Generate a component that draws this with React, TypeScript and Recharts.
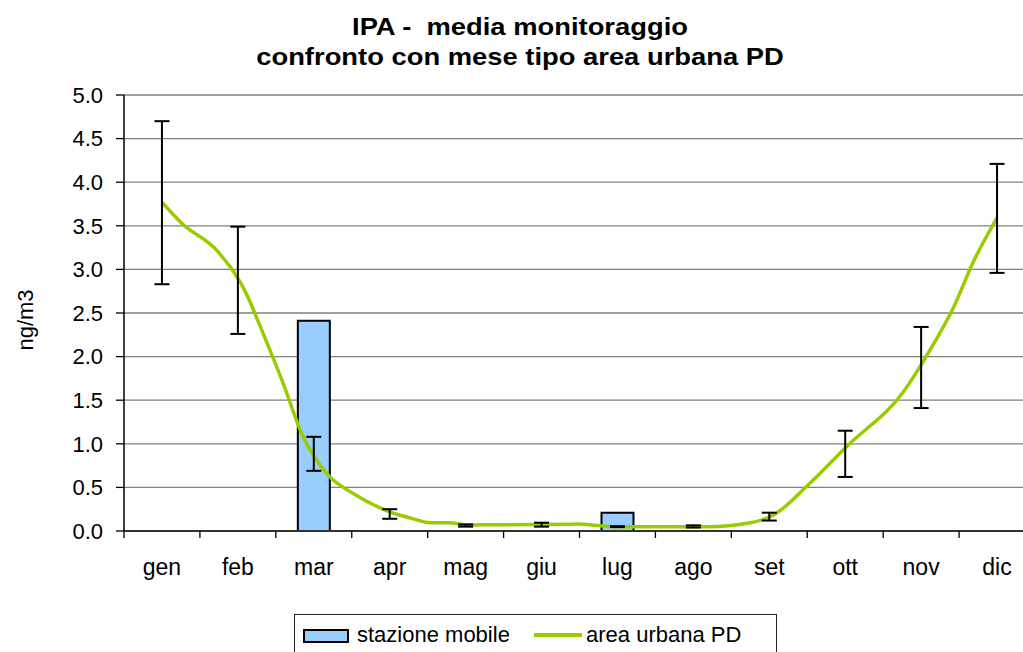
import React from 'react';
import { ComposedChart, Bar, Line, XAxis, YAxis, CartesianGrid, ErrorBar, Legend, Label } from 'recharts';

const months = ['gen', 'feb', 'mar', 'apr', 'mag', 'giu', 'lug', 'ago', 'set', 'ott', 'nov', 'dic'];
const stazioneMobile: (number | null)[] = [null, null, 2.41, null, null, null, 0.21, null, null, null, null, null];
const errLow = [2.83, 2.26, 0.69, 0.14, 0.05, 0.05, 0.045, 0.04, 0.12, 0.62, 1.41, 2.96];
const errHigh = [4.7, 3.49, 1.08, 0.25, 0.075, 0.095, 0.055, 0.065, 0.21, 1.15, 2.34, 4.21];
const urbanPos = [0, 0.26, 0.74, 1.14, 1.25, 1.58, 1.86, 2.19, 2.52, 3.0, 3.27, 3.53, 3.79, 4.01, 5.38, 5.46, 5.94, 7.18, 7.75, 8.05, 8.49, 9.02, 9.77, 10.12, 10.43, 10.69, 11.0];
const urbanVal = [3.77, 3.53, 3.2, 2.67, 2.44, 1.73, 1.08, 0.64, 0.43, 0.22, 0.15, 0.095, 0.095, 0.07, 0.077, 0.08, 0.05, 0.05, 0.095, 0.18, 0.51, 0.97, 1.6, 2.08, 2.57, 3.09, 3.59];
const yTicks = [0, 0.5, 1, 1.5, 2, 2.5, 3, 3.5, 4, 4.5, 5];

const FONT = '"Liberation Sans", Arial, sans-serif';
const BAR_FILL = '#99CCFF';
const LINE_COLOR = '#99CC00';

const catData = months.map((m, i) => ({
  m,
  stazione: stazioneMobile[i],
  center: (errLow[i] + errHigh[i]) / 2,
  err: [(errHigh[i] - errLow[i]) / 2, (errHigh[i] - errLow[i]) / 2],
}));

const lineData = urbanPos.map((f, i) => ({ f, v: urbanVal[i] }));

// tick positions: band boundaries (half values) and band centres (integers)
const xTicks: number[] = [];
for (let i = 0; i <= months.length * 2; i++) xTicks.push(-0.5 + i * 0.5);

const XTick = (props: any) => {
  const { x, y, payload } = props;
  const v = payload.value as number;
  const r = Math.round(v);
  if (Math.abs(v - r) > 0.25) {
    return <line x1={x} x2={x} y1={y} y2={y + 7} stroke="#000" strokeWidth={1.3} />;
  }
  return (
    <text x={x} y={y + 44} textAnchor="middle" fontSize={23} fontFamily={FONT} fill="#000">
      {months[r]}
    </text>
  );
};

const LegendBox = () => (
  <div style={{ paddingLeft: 294, height: 44, fontFamily: FONT }}>
    <div
      style={{
        boxSizing: 'border-box',
        width: 483,
        height: 44,
        border: '1px solid #222',
        display: 'flex',
        alignItems: 'center',
        paddingLeft: 8,
        fontSize: 22,
        lineHeight: '26px',
        color: '#000',
        whiteSpace: 'nowrap',
      }}
    >
      <span style={{ display: 'inline-block', boxSizing: 'border-box', width: 46, height: 14, background: BAR_FILL, border: '2px solid #000' }} />
      <span style={{ display: 'inline-block', width: 185, paddingLeft: 8, boxSizing: 'border-box', marginTop: -2 }}>stazione mobile</span>
      <span style={{ display: 'inline-block', width: 48, height: 4, background: LINE_COLOR, marginTop: -2 }} />
      <span style={{ display: 'inline-block', paddingLeft: 4, marginTop: -2 }}>area urbana PD</span>
    </div>
  </div>
);

export default function App() {
  return (
    <div style={{ position: 'absolute', left: 0, top: 0, width: 1023, height: 652, overflow: 'hidden', background: '#fff' }}>
      <div
        style={{
          position: 'absolute',
          left: 0,
          top: 12,
          width: 1040,
          textAlign: 'center',
          fontFamily: FONT,
          fontWeight: 'bold',
          fontSize: 24,
          lineHeight: '30px',
          whiteSpace: 'pre',
          transform: 'scaleX(1.14)',
          transformOrigin: '520px 0',
          color: '#000',
          zIndex: 2,
        }}
      >
        <div>IPA -  media monitoraggio</div>
        <div>confronto con mese tipo area urbana PD</div>
      </div>
      <div style={{ position: 'absolute', left: 0, top: 0 }}>
        <ComposedChart width={1045} height={658} data={catData} margin={{ top: 95, right: 10, left: 0, bottom: 0 }}>
          <CartesianGrid xAxisId="num" vertical={false} stroke="#808080" strokeWidth={1.3} />
          <XAxis xAxisId="cat" dataKey="m" type="category" hide height={0} />
          <XAxis
            xAxisId="num"
            dataKey="f"
            type="number"
            domain={[-0.5, 11.5]}
            allowDataOverflow
            ticks={xTicks}
            interval={0}
            tickSize={0}
            tickMargin={0}
            tickLine={false}
            axisLine={{ stroke: '#333', strokeWidth: 2 }}
            height={83}
            tick={(p: any) => <XTick {...p} />}
          />
          <YAxis
            domain={[0, 5]}
            ticks={yTicks}
            interval={0}
            width={124}
            tickSize={8}
            tickMargin={13}
            tickFormatter={(v: number) => v.toFixed(1)}
            tick={{ fontSize: 22, fill: '#000', fontFamily: FONT }}
            axisLine={{ stroke: '#000', strokeWidth: 1.5 }}
            tickLine={{ stroke: '#000', strokeWidth: 1.3 }}
          >
            <Label
              content={(p: any) => {
                const vb = p.viewBox || { x: 0, y: 95, width: 124, height: 436 };
                const cx = vb.x + 25;
                const cy = vb.y + vb.height / 2 + 7;
                return (
                  <text
                    x={cx}
                    y={cy}
                    transform={`rotate(-90, ${cx}, ${cy})`}
                    textAnchor="middle"
                    dominantBaseline="central"
                    fontSize={22}
                    fontFamily={FONT}
                    fill="#000"
                  >
                    ng/m3
                  </text>
                );
              }}
            />
          </YAxis>
          <Bar
            xAxisId="cat"
            dataKey="stazione"
            name="stazione mobile"
            fill={BAR_FILL}
            stroke="#000"
            strokeWidth={2}
            barSize={32}
            isAnimationActive={false}
          />
          <Line
            xAxisId="num"
            data={lineData}
            dataKey="v"
            name="area urbana PD"
            type="monotone"
            stroke={LINE_COLOR}
            strokeWidth={3.5}
            dot={false}
            activeDot={false}
            isAnimationActive={false}
          />
          <Line
            xAxisId="cat"
            dataKey="center"
            stroke="none"
            dot={false}
            activeDot={false}
            legendType="none"
            isAnimationActive={false}
          >
            <ErrorBar dataKey="err" width={7.5} stroke="#000" strokeWidth={2} isAnimationActive={false} />
          </Line>
          <Legend verticalAlign="bottom" content={() => <LegendBox />} />
        </ComposedChart>
      </div>
    </div>
  );
}
